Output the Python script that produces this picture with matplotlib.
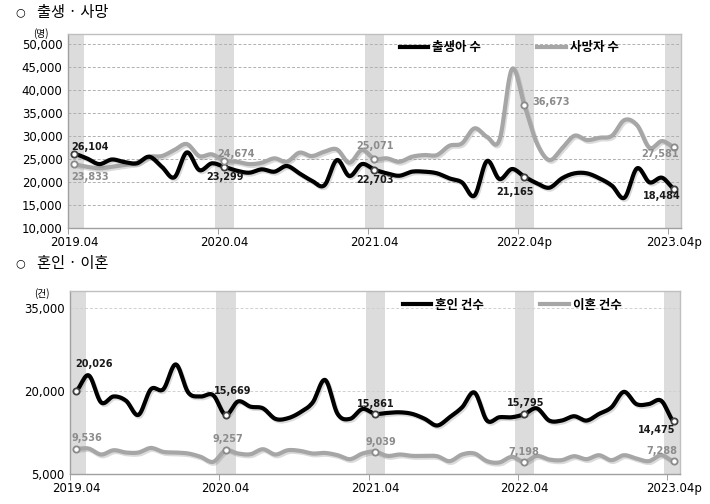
import numpy as np
import matplotlib
matplotlib.use("Agg")
import matplotlib.pyplot as plt
import matplotlib.patheffects as pe
from matplotlib.lines import Line2D

plt.rcParams['font.family'] = ['DejaVu Sans', 'Noto Sans CJK KR']

# months 2019.04 ~ 2023.04 (49 points)
tick_idx = [0, 12, 24, 36, 48]
top_ticklabels = ["2019.04", "2020.04", "2021.04", "2022.04p", "2023.04p"]
bot_ticklabels = ["2019.04", "2020.04", "2021.04", "2022.04", "2023.04p"]

births = [26104, 25150, 23900, 24900, 24350, 24060, 25500, 23330, 21020, 26450,
          22600, 24060, 23299, 22460, 22030, 22760, 22250, 23480, 21890, 20280,
          19280, 24780, 21300, 23900, 22703, 21880, 21370, 22250, 22250, 21900,
          20800, 19930, 17030, 24570, 20650, 22830, 21165, 19720, 18770, 20800,
          21890, 21890, 20800, 19200, 16590, 22980, 19930, 20940, 18484]
deaths = [23833, 23330, 22980, 23330, 23700, 24200, 25500, 25650, 26960, 28260,
          25650, 26020, 24674, 24420, 23900, 24200, 25150, 24420, 26380, 25650,
          26600, 27100, 24200, 26960, 25071, 25150, 24420, 25500, 25870, 25870,
          27890, 28400, 31670, 29850, 29130, 44570, 36673, 28400, 24780, 27320,
          30070, 29130, 29630, 30070, 33480, 32390, 27460, 28910, 27581]
marriages = [20026, 22800, 17910, 18990, 18220, 15660, 20300, 20300, 24770, 19700,
             18990, 19230, 15669, 18090, 17150, 16850, 14950, 15060, 16130, 17910,
             21970, 15840, 14950, 16730, 15861, 16020, 16130, 15840, 14950, 13750,
             15240, 17030, 19700, 14640, 15240, 15240, 15795, 16850, 14640, 14640,
             15420, 14640, 15840, 17030, 19820, 17620, 17620, 18220, 14475]
divorces = [9536, 9590, 8520, 9290, 8880, 8880, 9700, 8990, 8880, 8700,
            8100, 7200, 9257, 8700, 8570, 9470, 8520, 9290, 9170, 8700,
            8800, 8390, 7680, 8700, 9039, 8270, 8520, 8270, 8270, 8210,
            7320, 8520, 8700, 7320, 7090, 8100, 7198, 8270, 7620, 7500,
            8210, 7680, 8390, 7500, 8390, 7800, 7320, 8390, 7288]

GRAY = '#a6a6a6'
GRAY_TXT = '#8c8c8c'


def smooth(y, n=12):
    # catmull-rom style curve through the points (like excel smoothed line)
    y = np.asarray(y, float)
    p = np.concatenate([[y[0]], y, [y[-1]]])
    xs, ys = [], []
    t = np.linspace(0, 1, n, endpoint=False)
    for i in range(len(y) - 1):
        p0, p1, p2, p3 = p[i], p[i + 1], p[i + 2], p[i + 3]
        yy = 0.5 * ((2 * p1) + (-p0 + p2) * t + (2 * p0 - 5 * p1 + 4 * p2 - p3) * t ** 2
                    + (-p0 + 3 * p1 - 3 * p2 + p3) * t ** 3)
        xs.extend(i + t)
        ys.extend(yy)
    xs.append(len(y) - 1)
    ys.append(y[-1])
    return np.array(xs), np.array(ys)


shadow = [pe.SimpleLineShadow(offset=(1.0, -1.3), shadow_color='#707070', alpha=0.25), pe.Normal()]


def draw_panel(ax, s1, s2, c1, c2, ylim, yticks, grid, gridcol, ticklabels, labels, notes1, notes2, legx):
    for k in tick_idx:
        ax.axvspan(k - 0.75, k + 0.8, color='#dcdcdc', lw=0, zorder=0)
    for g in grid:
        ax.axhline(g, color=gridcol, lw=0.7, ls=(0, (3, 2)), zorder=1)
    x2, y2 = smooth(s2)
    ax.plot(x2, y2, color=c2, lw=3, solid_capstyle='round', path_effects=shadow, zorder=3)
    x1, y1 = smooth(s1)
    ax.plot(x1, y1, color=c1, lw=3, solid_capstyle='round', path_effects=shadow, zorder=4)
    ax.plot(tick_idx, [s1[k] for k in tick_idx], 'o', ms=4.5, mfc='white', mec='#404040', mew=1.3, zorder=5)
    ax.plot(tick_idx, [s2[k] for k in tick_idx], 'o', ms=4.5, mfc='white', mec='#8a8a8a', mew=1.3, zorder=5)
    for k, (dx, dy) in zip(tick_idx, notes1):
        ax.annotate(f"{s1[k]:,}", (k, s1[k]), xytext=(dx * 0.72, dy * 0.72), textcoords='offset points',
                    ha='center', va='center', fontsize=7, fontweight='bold', color='#1a1a1a', zorder=6)
    for k, (dx, dy) in zip(tick_idx, notes2):
        ax.annotate(f"{s2[k]:,}", (k, s2[k]), xytext=(dx * 0.72, dy * 0.72), textcoords='offset points',
                    ha='center', va='center', fontsize=7, fontweight='bold', color=GRAY_TXT, zorder=6)
    ax.set_xlim(-0.5, 48.5)
    ax.set_ylim(*ylim)
    ax.set_yticks(yticks)
    ax.set_yticklabels([f"{v:,}" for v in yticks], fontsize=8.5)
    ax.set_xticks(tick_idx)
    ax.set_xticklabels(ticklabels, fontsize=8.5)
    ax.set_xticks([k - 0.5 for k in tick_idx], minor=True)
    ax.tick_params(axis='x', which='major', length=0, pad=6)
    ax.tick_params(axis='x', which='minor', length=4, color='#909090')
    ax.tick_params(axis='y', length=0, pad=4)
    for sp in ax.spines.values():
        sp.set_color('#bfbfbf')
        sp.set_linewidth(1)
    ax.spines['left'].set_color('#a0a0a0')
    ax.spines['bottom'].set_color('#a0a0a0')
    handles = [Line2D([], [], color=c1, lw=3), Line2D([], [], color=c2, lw=3)]
    ax.legend(handles, labels, loc='upper center', bbox_to_anchor=(legx, 1.02), ncol=2, frameon=False,
              handlelength=2.3, handletextpad=0.3, columnspacing=4.5,
              prop={'family': ['Noto Sans CJK KR'], 'weight': 'bold', 'size': 9})


fig = plt.figure(figsize=(7.1, 5.04), dpi=100)
ax1 = fig.add_axes([0.0958, 0.5476, 0.863, 0.385])
ax2 = fig.add_axes([0.0986, 0.0595, 0.859, 0.363])

draw_panel(ax1, births, deaths, 'black', GRAY, (10000, 52200),
           [10000, 15000, 20000, 25000, 30000, 35000, 40000, 45000, 50000],
           [15000, 20000, 25000, 30000, 35000, 40000, 45000, 50000], '#b0b0b0',
           top_ticklabels, ['출생아 수', '사망자 수'],
           [(16, 7), (1, -10), (1, -10), (-9, -15), (-13, -7)],
           [(16, -13), (12, 7), (1, 13), (27, 3), (-14, -7)], 0.72)

draw_panel(ax2, marriages, divorces, 'black', GRAY, (5000, 38000),
           [5000, 20000, 35000], [20000, 35000], '#d0d0d0',
           bot_ticklabels, ['혼인 건수', '이혼 건수'],
           [(18, 27), (7, 24), (1, 10), (1, 11), (-17, -9)],
           [(11, 11), (2, 11), (6, 10), (0, 10), (-12, 10)], 0.725)

kfam = ['Noto Sans CJK KR', 'DejaVu Sans']
for yy, title in [(0.975, "출생 · 사망"), (0.478, "혼인 · 이혼")]:
    fig.text(0.022, yy, "○", fontsize=8, family=['DejaVu Sans'], va='center')
    fig.text(0.052, yy, title, fontsize=11, family=kfam, va='center')
fig.text(0.057, 0.933, "(명)", fontsize=7, family=kfam, va='center', ha='center')
fig.text(0.059, 0.418, "(건)", fontsize=7, family=kfam, va='center', ha='center')

fig.savefig("out.png", dpi=100)
